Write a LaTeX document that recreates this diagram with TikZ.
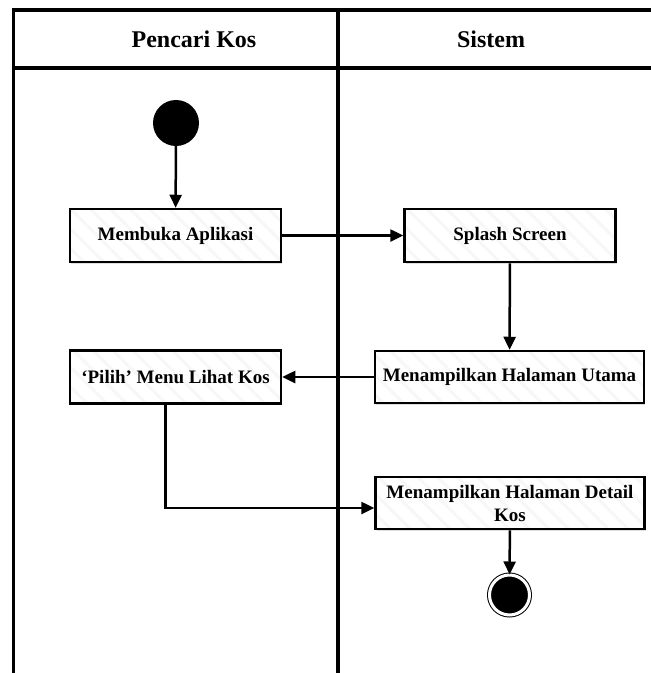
\documentclass[tikz,border=0pt]{standalone}
\usepackage{fontspec}
\setmainfont{Liberation Serif}
\usetikzlibrary{arrows.meta, shadows, patterns.meta}

\begin{document}
\begin{tikzpicture}[x=1pt, y=-1pt,
  lane/.style={line width=3.5pt},
  head/.style={font=\fontsize{24}{28}\selectfont\bfseries},
  act/.style={draw, line width=2.5pt, align=center, inner sep=2pt,
    minimum width=211pt, minimum height=53pt,
    font=\fontsize{19}{23}\selectfont\bfseries,
    drop shadow={shadow xshift=1.2pt, shadow yshift=-1.5pt, opacity=0.25},
    preaction={fill=white},
    preaction={pattern={Lines[angle=-45, distance=14pt, line width=3pt]}, pattern color=black!3}},
  wide/.style={act, minimum width=269pt, minimum height=52pt},
  arr/.style={line width=2.5pt, -{Triangle[length=13pt, width=12pt]}}]
\useasboundingbox (0,0) rectangle (651,673);
% swimlanes
\draw[lane] (12,10) -- (651,10);
\draw[lane] (12,68) -- (651,68);
\draw[lane] (13.5,8.25) -- (13.5,673);
\draw[lane] (338,8.25) -- (338,673);
\node[head] (laneA) at (194,39) {Pencari Kos};
\node[head] (laneB) at (491,39) {Sistem};
% activities
\node[circle, fill=black, inner sep=0pt, minimum size=46pt] (start) at (176,123) {};
\node[act] (buka) at (175.5,235.5) {Membuka Aplikasi};
\node[act] (splash) at (510,235.5) {Splash Screen};
\node[wide] (utama) at (509.5,377) {Menampilkan Halaman Utama};
\node[act] (pilih) at (175.5,377) {`Pilih' Menu Lihat Kos};
\node[wide] (detail) at (510,503) {Menampilkan Halaman Detail\\Kos};
\node[circle, fill=black, draw=black, line width=1pt, double=white, double distance=3pt,
  inner sep=0pt, minimum size=40pt,
  drop shadow={shadow xshift=1pt, shadow yshift=-1.5pt, opacity=0.25}] (stop) at (509.5,595) {};
\draw[arr] (start) -- (buka);
\draw[arr] (buka) -- (splash);
\draw[arr] (splash) -- (utama);
\draw[arr] (utama) -- (pilih);
\draw[arr] ([xshift=-10pt]pilih.south) |- ([yshift=-5pt]detail.west);
\draw[arr] (detail) -- (stop);
\end{tikzpicture}
\end{document}
